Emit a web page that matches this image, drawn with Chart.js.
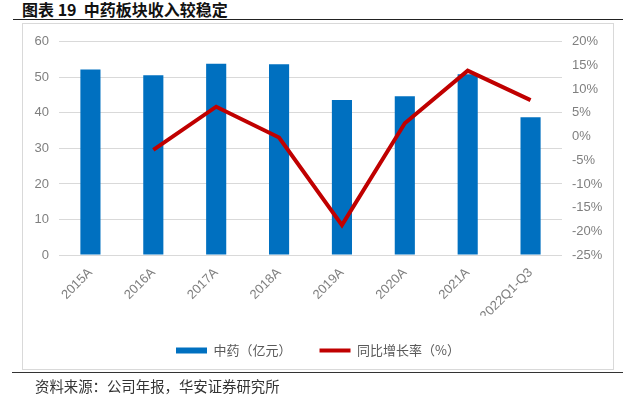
<!DOCTYPE html>
<html>
<head>
<meta charset="utf-8">
<script src="https://cdn.jsdelivr.net/npm/chart.js@4.4.0/dist/chart.umd.min.js"></script>
<style>
  body { margin: 0; background: #fff; width: 628px; height: 396px; position: relative; overflow: hidden; }
  #title { position: absolute; left: 22px; top: 0px; font: bold 16px "Noto Sans CJK SC", sans-serif; color: #111; white-space: pre; line-height: 19px; }
  #topline { position: absolute; left: 13px; top: 19px; width: 610px; height: 0; border-top: 1.5px solid #222; }
  #box { position: absolute; left: 22px; top: 23px; width: 590px; height: 345px; border: 1px solid #d9d9d9; pointer-events: none; }
  #chart-wrap { position: absolute; left: 23px; top: 24px; width: 590px; height: 360px; }
  #bottomline { position: absolute; left: 12px; top: 372px; width: 611px; height: 0; border-top: 1px solid #333; }
  #source { position: absolute; left: 35px; top: 377px; font: 14.4px "Noto Sans CJK SC", sans-serif; color: #333; line-height: 18px; }
</style>
</head>
<body>
<div id="title">图表 19  中药板块收入较稳定</div>
<div id="topline"></div>
<div id="box"></div>
<div id="chart-wrap"><canvas id="chart" width="590" height="360"></canvas></div>
<div id="bottomline"></div>
<div id="source">资料来源：公司年报，华安证券研究所</div>
<script>
// data
const categories = ['2015A', '2016A', '2017A', '2018A', '2019A', '2020A', '2021A', '2022Q1-Q3'];
const revenue = [52.2, 50.6, 53.8, 53.7, 43.6, 44.7, 50.9, 38.8];      // 中药（亿元）
const growth = [null, -2.8, 6.3, -0.2, -18.7, 2.8, 13.9, 7.7];        // 同比增长率（%）
const leftTicks = [0, 60, 10];
const rightTicks = [-25, 20, 5];

const tickColor = '#7f7f7f';
const tickFont = { family: 'Liberation Sans', size: 13 };

new Chart(document.getElementById('chart'), {
    type: 'bar',
    data: {
        labels: categories,
        datasets: [{
            type: 'bar',
            label: '中药（亿元）',
            data: revenue,
            backgroundColor: '#0070c0',
            borderWidth: 0,
            yAxisID: 'y',
            categoryPercentage: 1,
            barPercentage: 0.32,
            pointStyle: 'rect',
            order: 1
        }, {
            type: 'line',
            label: '同比增长率（%）',
            data: growth,
            borderColor: '#c00000',
            backgroundColor: '#c00000',
            borderWidth: 4,
            pointRadius: 0,
            pointStyle: 'line',
            tension: 0,
            yAxisID: 'y1',
            order: 0
        }]
    },
    options: {
        responsive: false,
        animation: false,
        devicePixelRatio: 1,
        layout: { padding: { top: 17, bottom: 17, left: 0, right: 0 } },
        plugins: {
            tooltip: { enabled: false },
            legend: {
                position: 'bottom',
                labels: {
                    usePointStyle: true,
                    pointStyleWidth: 31,
                    boxHeight: 6,
                    padding: 28,
                    color: '#595959',
                    font: { family: 'Noto Sans CJK SC', size: 13 },
                    sort: (a, b) => a.datasetIndex - b.datasetIndex
                }
            }
        },
        scales: {
            x: {
                grid: { display: false },
                border: { display: false },
                ticks: {
                    color: tickColor,
                    font: tickFont,
                    minRotation: 45,
                    maxRotation: 45,
                    autoSkip: false,
                    padding: 2
                },
                afterFit: s => { s.height = 61; }
            },
            y: {
                position: 'left',
                min: leftTicks[0],
                max: leftTicks[1],
                ticks: { stepSize: leftTicks[2], color: tickColor, font: tickFont, padding: 10 },
                grid: { color: '#d9d9d9', drawTicks: false },
                border: { display: false },
                afterFit: s => { s.width = 36; }
            },
            y1: {
                position: 'right',
                min: rightTicks[0],
                max: rightTicks[1],
                ticks: { stepSize: rightTicks[2], color: tickColor, font: tickFont, padding: 10, callback: v => v + '%' },
                grid: { display: false, drawTicks: false },
                border: { display: false },
                afterFit: s => { s.width = 51; }
            }
        }
    }
});
</script>
</body>
</html>
